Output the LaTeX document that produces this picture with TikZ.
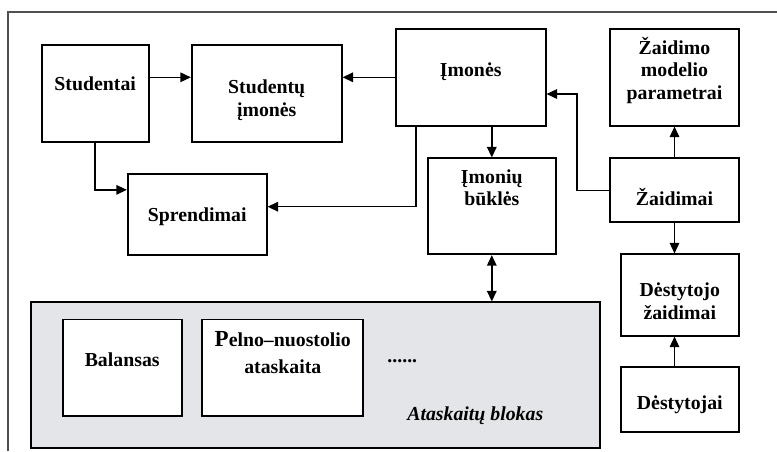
\documentclass[tikz,border=0pt]{standalone}
\usepackage{fontspec}
\setmainfont{Liberation Serif}
\usetikzlibrary{arrows.meta,calc}
\definecolor{blockgray}{RGB}{227,229,232}
\definecolor{framegray}{RGB}{80,80,80}
\tikzset{
  box/.style={draw=black, line width=1.7pt, fill=white, inner sep=0pt, rectangle},
  txt/.style={font=\fontsize{19.8}{22}\selectfont\bfseries, inner sep=0pt, anchor=base},
  arr/.style={line width=1.5pt, -{Triangle[length=10.5pt,width=9.5pt]}},
  darr/.style={line width=1.5pt, {Triangle[length=10.5pt,width=9.5pt]}-{Triangle[length=10.5pt,width=9.5pt]}},
  ln/.style={line width=1.5pt}
}
\begin{document}
\begin{tikzpicture}[x=1pt,y=-1pt]
\useasboundingbox (0,0) rectangle (777,451);
% outer frame (partially visible)
\draw[framegray, line width=1.1pt] (8,451) -- (8,12) -- (777,12);

% boxes
\node[box, minimum width=107pt, minimum height=96.4pt] (stud) at (95.2,93.5) {};
\node[box, minimum width=150pt, minimum height=96.4pt] (stim) at (266.7,93.5) {};
\node[box, minimum width=139pt, minimum height=81pt] (spr) at (197.2,214.5) {};
\node[box, minimum width=150pt, minimum height=96.7pt] (imon) at (470.7,77.3) {};
\node[box, minimum width=128.3pt, minimum height=96pt] (buk) at (491.8,206.3) {};
\node[box, minimum width=129pt, minimum height=96.7pt] (zpar) at (674.5,77.3) {};
\node[box, minimum width=129pt, minimum height=64pt] (zaid) at (674.5,190.3) {};
\node[box, minimum width=118.3pt, minimum height=81.4pt] (dzaid) at (679.8,295) {};
\node[box, minimum width=118.3pt, minimum height=65pt] (dest) at (679.8,399.8) {};
\node[box, fill=blockgray, minimum width=569pt, minimum height=146pt] (blok) at (315.2,375.3) {};
\node[box, minimum width=119pt, minimum height=96.7pt] (bal) at (122.2,367.7) {};
\node[box, minimum width=161pt, minimum height=96.7pt] (pel) at (282.8,367.7) {};

% texts
\node[txt] (tstud) at (95.2,90.5) {Studentai};
\node[txt] (tstim1) at (266.7,93.3) {Studentų};
\node[txt] (tstim2) at (266.7,116.3) {įmonės};
\node[txt] (tspr) at (197.2,221) {Sprendimai};
\node[txt] (timon) at (470.7,76) {Įmonės};
\node[txt] (tbuk1) at (491.8,183.7) {Įmonių};
\node[txt] (tbuk2) at (491.8,205.7) {būklės};
\node[txt] (tzp1) at (674.5,54) {Žaidimo};
\node[txt] (tzp2) at (674.5,76.5) {modelio};
\node[txt] (tzp3) at (674.5,99) {parametrai};
\node[txt] (tzaid) at (674.5,205.7) {Žaidimai};
\node[txt] (tdz1) at (679.8,296.7) {Dėstytojo};
\node[txt] (tdz2) at (679.8,319.3) {žaidimai};
\node[txt] (tdest) at (679.8,409.3) {Dėstytojai};
\node[txt] (tbal) at (122.2,366.7) {Balansas};
\node[txt] (tpel1) at (282.8,346.3) {{\fontsize{23}{23}\selectfont P}elno–nuostolio};
\node[txt] (tpel2) at (282.8,373) {ataskaita};
\node[txt] (tdots) at (402.3,362.3) {......};
\node[txt, font=\fontsize{19.8}{22}\selectfont\bfseries\itshape] (tblok) at (475.3,420) {Ataskaitų blokas};

% connectors
\draw[arr] (stud.east |- imon.west) -- (stim.west |- imon.west);
\draw[arr] (imon.west) -- (stim.east |- imon.west);
\draw[arr] (stud.south) |- ([yshift=-16.7pt]spr.north west);
\draw[arr] ([xshift=21.3pt]imon.south west) |- ([yshift=7.8pt]spr.east);
\draw[arr] (buk.north |- imon.south) -- (buk.north);
\draw[arr] (zaid.west) -- ++(-32.3,0) |- ([yshift=-16.7pt]imon.east);
\draw[arr] (zaid.north) -- (zpar.south);
\draw[arr] (zaid.south) -- (zaid.south |- dzaid.north);
\draw[arr] (zaid.south |- dest.north) -- (zaid.south |- dzaid.south);
\draw[darr] (buk.south) -- (buk.south |- blok.north);
\end{tikzpicture}
\end{document}
